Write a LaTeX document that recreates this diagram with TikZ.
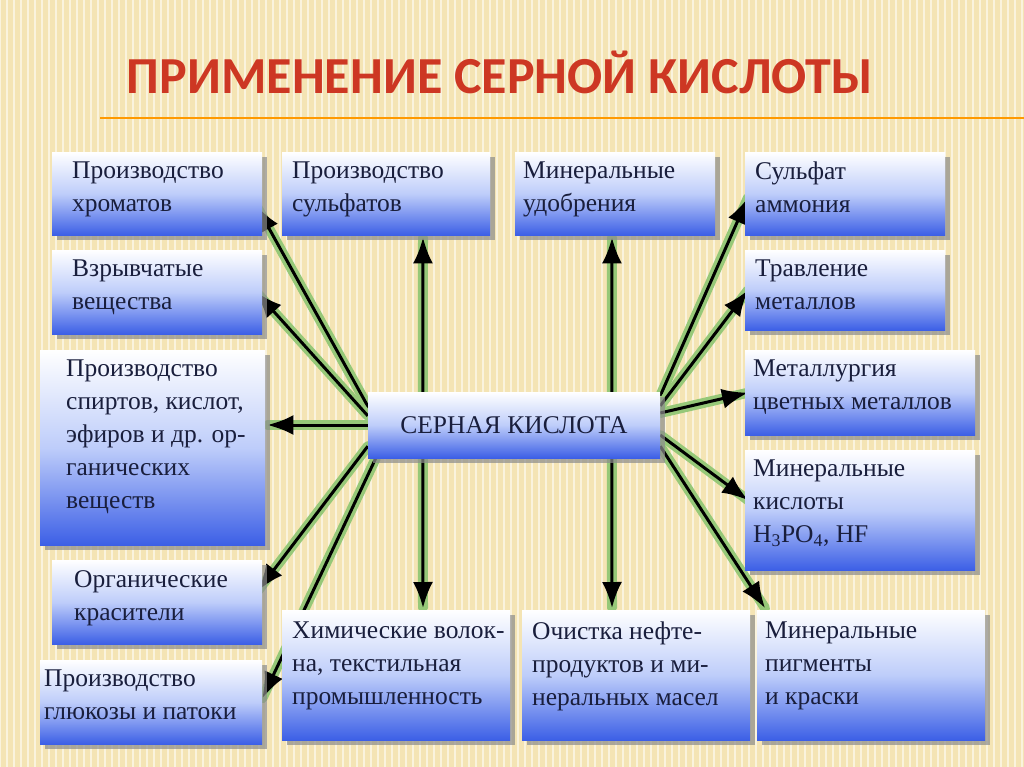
\documentclass[tikz,border=0pt]{standalone}
\usepackage{fontspec}
\setmainfont{Liberation Serif}
\newfontfamily\titlefont{Carlito}
\usetikzlibrary{calc,arrows.meta,shadows}
\pgfdeclarelayer{bgl}\pgfdeclarelayer{arl}\pgfsetlayers{bgl,arl,main}
\definecolor{boxblue}{RGB}{60,95,230}
\definecolor{txt}{RGB}{25,30,60}
\definecolor{bgc}{RGB}{244,228,180}
\definecolor{glow}{RGB}{150,200,120}
\tikzset{
 bx/.style={draw=none,top color=white,bottom color=boxblue,middle color={rgb,255:red,190;green,205;blue,250},
   drop shadow={shadow xshift=5pt,shadow yshift=-5pt,fill=black!45,opacity=.7},
   align=left,anchor=north west,inner sep=0pt,text=txt,font=\fontsize{25.5}{33}\selectfont},
 lbl/.style={anchor=north west,align=left,text=txt,inner sep=0pt,font=\fontsize{25.5}{33}\selectfont},
 glowline/.style={line width=10pt,glow,line cap=round},
 arr/.style={line width=3pt,black,-{Latex[length=26pt,width=20pt]}},
}
\newcommand{\conn}[2]{\begin{pgfonlayer}{arl}\draw[glowline] #1 -- #2;\draw[arr] #1 -- #2;\end{pgfonlayer}}
\begin{document}
\begin{tikzpicture}[x=1pt,y=-1pt]
\useasboundingbox (0,0) rectangle (1024,767);
\begin{pgfonlayer}{bgl}
\fill[bgc] (0,0) rectangle (1024,767);
\foreach \i in {0,7,...,1024}{\draw[line width=2.5pt,white!55!bgc] (\i,0) -- (\i,767);}
\draw[line width=1.5pt,orange!80!yellow] (100,118) -- (1024,118);
\end{pgfonlayer}
\node[anchor=center,text={rgb,255:red,205;green,55;blue,35},font=\titlefont\bfseries\fontsize{52}{60}\selectfont] (title) at (500,72) {ПРИМЕНЕНИЕ СЕРНОЙ КИСЛОТЫ};
% boxes
\node[bx,minimum width=210,minimum height=83] (b1) at (52,152) {};
\node[lbl] at ($(b1.north west)+(20,10)$) {Производство\\хроматов};
\node[bx,minimum width=210,minimum height=84] (b2) at (52,250) {};
\node[lbl] at ($(b2.north west)+(20,10)$) {Взрывчатые\\вещества};
\node[bx,minimum width=225,minimum height=195] (b3) at (40,350) {};
\node[lbl] at ($(b3.north west)+(26,10)$) {Производство\\спиртов, кислот,\\эфиров и др. ор-\\ганических\\веществ};
\node[bx,minimum width=210,minimum height=84] (b4) at (52,560) {};
\node[lbl] at ($(b4.north west)+(22,10)$) {Органические\\красители};
\node[bx,minimum width=222,minimum height=84] (b5) at (40,660) {};
\node[lbl] at ($(b5.north west)+(4,10)$) {Производство\\глюкозы и патоки};
\node[bx,minimum width=208,minimum height=83] (b6) at (282,152) {};
\node[lbl] at ($(b6.north west)+(10,10)$) {Производство\\сульфатов};
\node[bx,minimum width=200,minimum height=83] (b7) at (515,152) {};
\node[lbl] at ($(b7.north west)+(8,10)$) {Минеральные\\удобрения};
\node[bx,minimum width=200,minimum height=83] (b8) at (745,152) {};
\node[lbl] at ($(b8.north west)+(10,10)$) {Сульфат\\аммония};
\node[bx,minimum width=200,minimum height=80] (b9) at (745,250) {};
\node[lbl] at ($(b9.north west)+(10,10)$) {Травление\\металлов};
\node[bx,minimum width=230,minimum height=85] (b10) at (745,350) {};
\node[lbl] at ($(b10.north west)+(8,10)$) {Металлургия\\цветных металлов};
\node[bx,minimum width=230,minimum height=120] (b11) at (745,450) {};
\node[lbl] at ($(b11.north west)+(8,10)$) {Минеральные\\кислоты\\H\textsubscript{3}PO\textsubscript{4}, HF};
\node[bx,minimum width=228,minimum height=130] (b12) at (757,610) {};
\node[lbl] at ($(b12.north west)+(8,12)$) {Минеральные\\пигменты\\и краски};
\node[bx,minimum width=228,minimum height=130] (b13) at (282,610) {};
\node[lbl] at ($(b13.north west)+(10,12)$) {Химические волок-\\на, текстильная\\промышленность};
\node[bx,minimum width=228,minimum height=130] (b14) at (522,610) {};
\node[lbl] at ($(b14.north west)+(10,12)$) {Очистка нефте-\\продуктов и ми-\\неральных масел};
\node[bx,anchor=center,align=center,minimum width=292,minimum height=66] (c) at (514,425) {СЕРНАЯ КИСЛОТА};
% connectors
\conn{($(c.north west)+(2,18)$)}{($(b1.east)+(-6,12)$)}
\conn{($(c.north west)+(0,24)$)}{($(b2.east)+(-6,0)$)}
\conn{(c.west)}{($(b3.east|-c.west)+(2,0)$)}
\conn{($(c.south west)+(0,-12)$)}{($(b4.east)+(-4,-12)$)}
\conn{($(c.south west)+(8,0)$)}{($(b5.east)+(0,-4)$)}
\conn{($(c.north west)+(55,0)$)}{($(b6.south west)+(141,2)$)}
\conn{($(c.north west)+(244,0)$)}{($(b7.south west)+(97,2)$)}
\conn{($(c.south west)+(55,0)$)}{($(b13.north west)+(141,-2)$)}
\conn{($(c.south west)+(244,0)$)}{($(b14.north west)+(90,-2)$)}
\conn{($(c.north east)+(0,4)$)}{($(b8.west)+(3,4)$)}
\conn{($(c.north east)+(0,14)$)}{($(b9.west)+(3,0)$)}
\conn{($(c.east)+(0,-12)$)}{($(b10.west)+(3,0)$)}
\conn{($(c.east)+(0,10)$)}{($(b11.west)+(3,-10)$)}
\conn{($(c.south east)+(0,-12)$)}{($(b12.north west)+(8,-2)$)}
\end{tikzpicture}
\end{document}
